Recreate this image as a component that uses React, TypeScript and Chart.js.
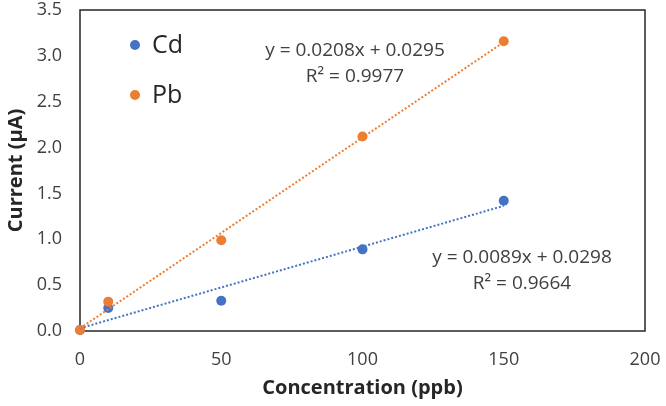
import { useEffect, useRef } from 'react';
import { Chart, registerables } from 'chart.js';

Chart.register(...registerables);

// ---- data ----
const concentrations = [0, 10, 50, 100, 150];
const cdCurrent = [0.01, 0.25, 0.33, 0.89, 1.42];
const pbCurrent = [0.01, 0.32, 0.99, 2.12, 3.16];
const trendX = [0, 150];
const cdTrendY = [0.0298, 1.3648];
const pbTrendY = [0.0295, 3.1495];
const xTicks = [0, 50, 100, 150, 200];
const yTicks = [0, 0.5, 1.0, 1.5, 2.0, 2.5, 3.0, 3.5];
const seriesNames = ['Cd', 'Pb'];
const cdEquation = ['y = 0.0089x + 0.0298', 'R² = 0.9664'];
const pbEquation = ['y = 0.0208x + 0.0295', 'R² = 0.9977'];
const xTitle = 'Concentration (ppb)';
const yTitle = 'Current (µA)';

const BLUE = '#4472C4';
const ORANGE = '#ED7D31';
const TEXT = '#404040';
const FONT = '"Open Sans", "Noto Sans", sans-serif';

export default function App() {
  const ref = useRef<HTMLCanvasElement | null>(null);

  useEffect(() => {
    const canvas = ref.current;
    if (!canvas) return;

    const framePlugin = {
      id: 'frame',
      beforeDatasetsDraw(chart: any) {
        const { ctx, chartArea: a } = chart;
        ctx.save();
        ctx.strokeStyle = '#262626';
        ctx.lineWidth = 1.5;
        ctx.strokeRect(a.left, a.top, a.right - a.left, a.bottom - a.top);
        ctx.restore();
      },
    };

    const overlayPlugin = {
      id: 'overlay',
      afterDraw(chart: any) {
        const { ctx } = chart;
        ctx.save();
        // legend
        const colors = [BLUE, ORANGE];
        const ys = [45, 95];
        seriesNames.forEach((name, i) => {
          ctx.fillStyle = colors[i];
          ctx.beginPath();
          ctx.arc(135, ys[i], 5, 0, Math.PI * 2);
          ctx.fill();
          ctx.fillStyle = '#262626';
          ctx.font = `25px ${FONT}`;
          ctx.textAlign = 'left';
          ctx.textBaseline = 'middle';
          ctx.fillText(name, 152, ys[i] + 1);
        });
        // equations
        ctx.fillStyle = TEXT;
        ctx.font = `19px ${FONT}`;
        ctx.textAlign = 'center';
        ctx.textBaseline = 'middle';
        ctx.fillText(pbEquation[0], 355, 51);
        ctx.fillText(pbEquation[1], 355, 77);
        ctx.fillText(cdEquation[0], 522, 258);
        ctx.fillText(cdEquation[1], 522, 284);
        ctx.restore();
      },
    };

    const toPts = (xs: number[], ys: number[]) => xs.map((x, i) => ({ x, y: ys[i] }));
    const zeroPad = (s: any) => {
      s.paddingLeft = 0;
      s.paddingRight = 0;
      s.paddingTop = 0;
      s.paddingBottom = 0;
    };

    const chart = new Chart(canvas, {
      type: 'scatter',
      data: {
        datasets: [
          {
            type: 'line',
            label: 'Pb trend',
            data: toPts(trendX, pbTrendY),
            borderColor: ORANGE,
            borderWidth: 2,
            borderDash: [2, 2],
            pointRadius: 0,
            showLine: true,
            fill: false,
            order: 0,
          },
          {
            type: 'line',
            label: 'Cd trend',
            data: toPts(trendX, cdTrendY),
            borderColor: BLUE,
            borderWidth: 2,
            borderDash: [2, 2],
            pointRadius: 0,
            showLine: true,
            fill: false,
            order: 0,
          },
          {
            label: seriesNames[1],
            data: toPts(concentrations, pbCurrent),
            backgroundColor: ORANGE,
            borderColor: ORANGE,
            pointRadius: 5,
            borderWidth: 0,
            clip: false,
            order: 1,
          },
          {
            label: seriesNames[0],
            data: toPts(concentrations, cdCurrent),
            backgroundColor: BLUE,
            borderColor: BLUE,
            pointRadius: 5,
            borderWidth: 0,
            clip: false,
            order: 2,
          },
        ] as any,
      },
      options: {
        animation: false,
        responsive: false,
        maintainAspectRatio: false,
        layout: { padding: { top: 10, right: 21, left: 0, bottom: 0 } },
        plugins: {
          legend: { display: false },
          tooltip: { enabled: false },
        },
        scales: {
          x: {
            type: 'linear',
            min: 0,
            max: 200,
            afterBuildTicks: (s: any) => {
              s.ticks = xTicks.map((v) => ({ value: v }));
            },
            afterFit: (s: any) => {
              s.height = 75;
              zeroPad(s);
            },
            grid: { display: false, drawTicks: false },
            border: { display: false },
            ticks: {
              padding: 18,
              color: TEXT,
              font: { family: FONT, size: 18 },
              maxRotation: 0,
            },
            title: {
              display: true,
              text: xTitle,
              color: '#262626',
              font: { family: FONT, size: 20, weight: 'bold' },
              padding: { top: 0, bottom: 6 },
            },
          },
          y: {
            type: 'linear',
            min: 0,
            max: 3.5,
            afterBuildTicks: (s: any) => {
              s.ticks = yTicks.map((v) => ({ value: v }));
            },
            afterFit: (s: any) => {
              s.width = 80;
              zeroPad(s);
            },
            grid: { display: false, drawTicks: false },
            border: { display: false },
            ticks: {
              padding: 18,
              color: TEXT,
              font: { family: FONT, size: 18 },
              callback: (v: any) => Number(v).toFixed(1),
            },
            title: {
              display: true,
              text: yTitle,
              color: '#262626',
              font: { family: FONT, size: 20, weight: 'bold' },
              padding: { top: 4, bottom: 0 },
            },
          },
        },
      } as any,
      plugins: [framePlugin, overlayPlugin],
    });

    return () => chart.destroy();
  }, []);

  return (
    <div style={{ position: 'fixed', left: 0, top: 0, width: 666, height: 406, background: '#fff' }}>
      <canvas ref={ref} width={666} height={406} style={{ display: 'block' }} />
    </div>
  );
}
